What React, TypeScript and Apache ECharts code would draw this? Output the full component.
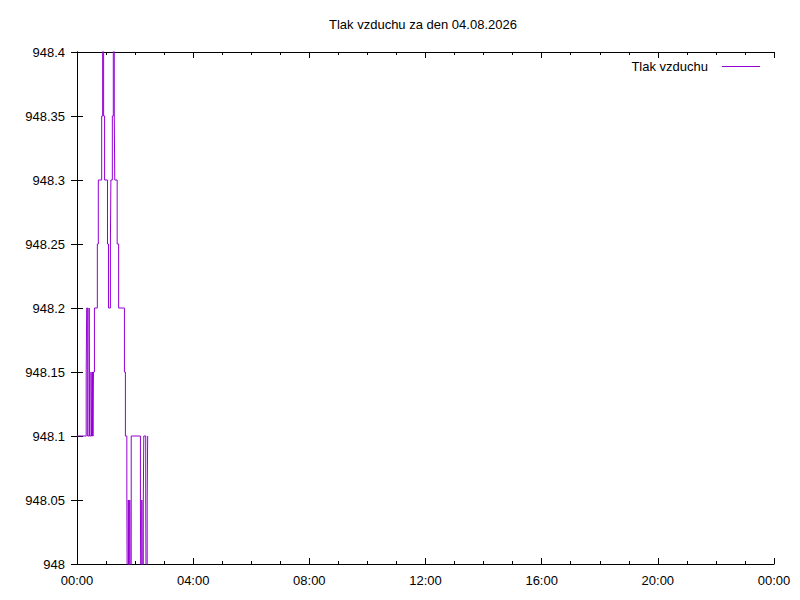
import React, { useEffect, useRef } from "react";
import * as echarts from "echarts";

const titleText = "Tlak vzduchu za den 04.08.2026";
const seriesName = "Tlak vzduchu";

// minutes since midnight at which each reading starts
const minutes = [
  0, 19, 20, 22, 25, 26, 29, 30, 32, 33, 34, 36, 42, 44, 51, 53, 55, 57, 63, 65,
  69, 70, 73, 75, 77, 78, 83, 86, 98, 100, 103, 104, 106, 107, 109, 110, 112,
  131, 132, 134, 135, 137, 138, 142, 143, 145, 146, 147,
];
// air pressure readings (hPa)
const pressure = [
  948.1, 948.15, 948.2, 948.1, 948.2, 948.1, 948.15, 948.1, 948.15, 948.1,
  948.15, 948.2, 948.25, 948.3, 948.35, 948.45, 948.35, 948.3, 948.25, 948.2,
  948.25, 948.3, 948.35, 948.45, 948.35, 948.3, 948.25, 948.2, 948.15, 948.1,
  948.05, 947.95, 948.05, 947.95, 948.05, 947.95, 948.1, 948.05, 947.95, 948.05,
  947.95, 948.05, 948.1, 948.05, 947.95, 948.05, 948.1, 948.1,
];

const yMin = 948;
const yMax = 948.4;
const yStep = 0.05;
const xMin = 0;
const xMax = 1440;
const xStep = 240;

const FONT = "Liberation Sans, Arial, sans-serif";
const FS = 13;
const LINE_COLOR = "#9400d3";

function fmtTime(v: number): string {
  const h = Math.floor(v / 60) % 24;
  return (h < 10 ? "0" : "") + h + ":00";
}

export default function App() {
  const ref = useRef<HTMLDivElement>(null);
  useEffect(() => {
    if (!ref.current) return;
    const chart = echarts.init(ref.current, undefined, { renderer: "svg" });
    const data = minutes.map((m, i) => [m, pressure[i]]);
    const axisLine = { show: true, lineStyle: { color: "#000", width: 1 } };
    chart.setOption({
      animation: false,
      backgroundColor: "#fff",
      title: {
        text: titleText,
        left: 329,
        top: 18,
        padding: 0,
        textStyle: { fontSize: FS, fontWeight: "normal", color: "#000", fontFamily: FONT },
      },
      legend: {
        data: [seriesName],
        right: 40,
        top: 60,
        padding: 0,
        align: "right",
        icon: "rect",
        itemWidth: 38,
        itemHeight: 1.2,
        itemGap: 0,
        itemStyle: { color: LINE_COLOR, borderWidth: 0 },
        textStyle: { fontSize: FS, color: "#000", fontFamily: FONT, padding: [0, 9, 0, 0] },
      },
      grid: { left: 77, right: 26, top: 52, bottom: 36, show: false },
      xAxis: [
        {
          type: "value",
          min: xMin,
          max: xMax,
          interval: xStep,
          axisLine,
          axisTick: { show: true, inside: true, length: 6, lineStyle: { color: "#000" } },
          minorTick: { show: true, splitNumber: 4, length: 3, lineStyle: { color: "#000" } },
          splitLine: { show: false },
          axisLabel: {
            formatter: (v: number) => fmtTime(v),
            color: "#000",
            fontSize: FS,
            fontFamily: FONT,
            margin: 10,
          },
        },
        {
          type: "value",
          position: "top",
          min: xMin,
          max: xMax,
          interval: xStep,
          axisLine,
          axisTick: { show: true, inside: true, length: 6, lineStyle: { color: "#000" } },
          minorTick: { show: true, splitNumber: 4, length: 3, lineStyle: { color: "#000" } },
          splitLine: { show: false },
          axisLabel: { show: false },
        },
      ],
      yAxis: [
        {
          type: "value",
          min: yMin,
          max: yMax,
          interval: yStep,
          axisLine,
          axisTick: { show: true, inside: true, length: 6, lineStyle: { color: "#000" } },
          splitLine: { show: false },
          axisLabel: {
            formatter: (v: number) => String(Number(v.toFixed(2))),
            color: "#000",
            fontSize: FS,
            fontFamily: FONT,
            margin: 12,
          },
        },
        {
          type: "value",
          position: "right",
          min: yMin,
          max: yMax,
          interval: yStep,
          axisLine,
          axisTick: { show: true, inside: true, length: 6, lineStyle: { color: "#000" } },
          splitLine: { show: false },
          axisLabel: { show: false },
        },
      ],
      series: [
        {
          name: seriesName,
          type: "line",
          step: "end",
          xAxisIndex: 0,
          yAxisIndex: 0,
          data,
          symbol: "none",
          showSymbol: false,
          clip: true,
          lineStyle: { color: LINE_COLOR, width: 1 },
          itemStyle: { color: LINE_COLOR },
        },
      ],
    });
    return () => chart.dispose();
  }, []);
  return <div ref={ref} style={{ width: 800, height: 600, position: "absolute", left: 0, top: 0 }} />;
}
